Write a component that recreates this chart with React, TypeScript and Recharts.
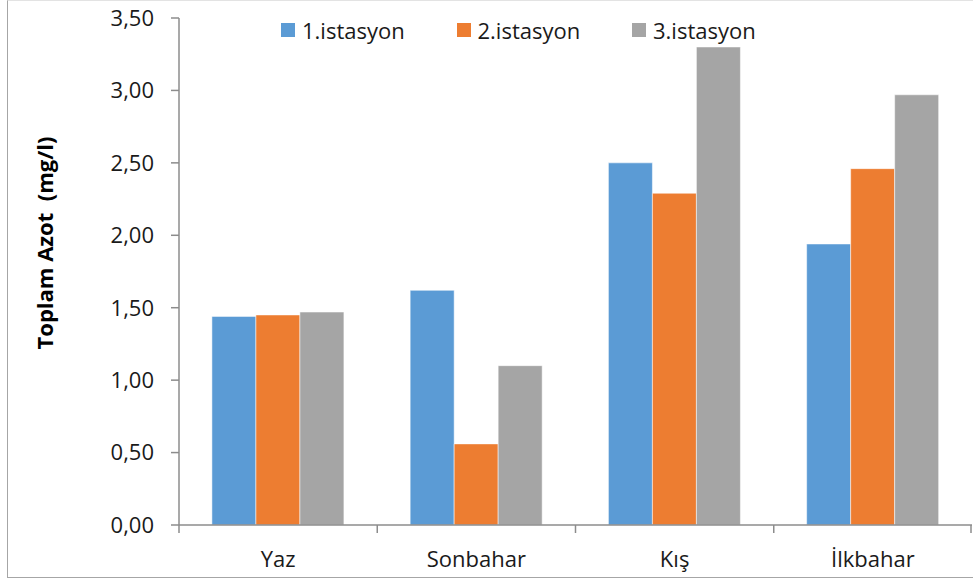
import React from 'react';
import { BarChart, Bar, XAxis, YAxis, Legend } from 'recharts';

const seasons = ['Yaz', 'Sonbahar', 'Kış', 'İlkbahar'];
const station1 = [1.44, 1.62, 2.5, 1.94];
const station2 = [1.45, 0.56, 2.29, 2.46];
const station3 = [1.47, 1.1, 3.3, 2.97];
const seriesNames = ['1.istasyon', '2.istasyon', '3.istasyon'];
const seriesColors = ['#5B9BD5', '#ED7D31', '#A5A5A5'];
const yTicks = [0, 0.5, 1, 1.5, 2, 2.5, 3, 3.5];
const yTitle = 'Toplam Azot  (mg/l)';

const data = seasons.map((s, i) => ({
  season: s,
  s1: station1[i],
  s2: station2[i],
  s3: station3[i],
}));
const keys = ['s1', 's2', 's3'];

const W = 973;
const H = 583;
const M = { top: 18, right: 1, left: 0, bottom: 0 };
const Y_W = 179;
const X_H = 58;
const PLOT_W = W - M.left - M.right - Y_W;
const AXIS_Y = H - M.bottom - X_H;
const FONT = '"Open Sans", "Noto Sans", sans-serif';
const AXIS_COLOR = '#8c8c8c';
const TEXT_COLOR = '#1a1a1a';

const XTick = (props: any) => {
  const { x, payload, index } = props;
  const bw = PLOT_W / seasons.length;
  const isLast = index === seasons.length - 1;
  return (
    <g>
      <line x1={x - bw / 2} x2={x - bw / 2} y1={AXIS_Y} y2={AXIS_Y + 8} stroke={AXIS_COLOR} strokeWidth={1.5} />
      {isLast && (
        <line x1={x + bw / 2 - 1} x2={x + bw / 2 - 1} y1={AXIS_Y} y2={AXIS_Y + 8} stroke={AXIS_COLOR} strokeWidth={1.5} />
      )}
      <text x={x} y={AXIS_Y + 42} textAnchor="middle" fontFamily={FONT} fontSize={22} fill={TEXT_COLOR}>
        {payload.value}
      </text>
    </g>
  );
};

const renderLegend = (props: any) => {
  const { payload } = props;
  return (
    <div style={{ display: 'flex', paddingLeft: 281, height: 20, alignItems: 'center' }}>
      {payload.map((p: any, i: number) => (
        <div key={i} style={{ display: 'flex', alignItems: 'center', width: 175.5 }}>
          <div style={{ width: 14, height: 14, background: p.color, marginRight: 7 }} />
          <span style={{ fontFamily: FONT, fontSize: 22, color: TEXT_COLOR, lineHeight: '20px', whiteSpace: 'nowrap' }}>
            {p.value}
          </span>
        </div>
      ))}
    </div>
  );
};

export default function App() {
  return (
    <div style={{ position: 'absolute', left: 0, top: 0, width: W, height: H, background: '#fff', overflow: 'hidden' }}>
      <div
        style={{
          position: 'absolute',
          left: 7,
          top: 0,
          width: W,
          height: 578,
          borderLeft: '1.5px solid #a6a6a6',
          borderBottom: '1.5px solid #a6a6a6',
          borderTop: '1px solid #e3e3e3',
          boxSizing: 'border-box',
          pointerEvents: 'none',
        }}
      />
      <BarChart width={W} height={H} data={data} margin={M} barCategoryGap="16.6%" barGap={0}>
        <XAxis
          dataKey="season"
          height={X_H}
          axisLine={{ stroke: AXIS_COLOR, strokeWidth: 1.5 }}
          tickLine={false}
          tick={<XTick />}
          interval={0}
        />
        <YAxis
          width={Y_W}
          domain={[0, 3.5]}
          ticks={yTicks}
          interval={0}
          axisLine={{ stroke: AXIS_COLOR, strokeWidth: 1.5 }}
          tickLine={{ stroke: AXIS_COLOR, strokeWidth: 1.5 }}
          tickSize={8}
          tickMargin={17}
          tickFormatter={(v: number) => v.toFixed(2).replace('.', ',')}
          tick={{ fontFamily: FONT, fontSize: 22, fill: TEXT_COLOR }}
          label={{
            content: () => (
              <text
                x={44}
                y={243}
                transform="rotate(-90 44 243)"
                textAnchor="middle"
                dominantBaseline="central"
                fontFamily={FONT}
                fontWeight="bold"
                fontSize={22}
                fill="#000"
                style={{ whiteSpace: 'pre' }}
              >
                {yTitle}
              </text>
            ),
          }}
        />
        <Legend
          layout="horizontal"
          verticalAlign="middle"
          align="center"
          wrapperStyle={{ position: 'absolute', top: 20, left: 0, width: W, height: 20 }}
          content={renderLegend}
        />
        {keys.map((k, i) => (
          <Bar
            key={k}
            dataKey={k}
            name={seriesNames[i]}
            fill={seriesColors[i]}
            stroke="#ffffff"
            strokeOpacity={0.5}
            strokeWidth={1}
            isAnimationActive={false}
          />
        ))}
      </BarChart>
    </div>
  );
}
